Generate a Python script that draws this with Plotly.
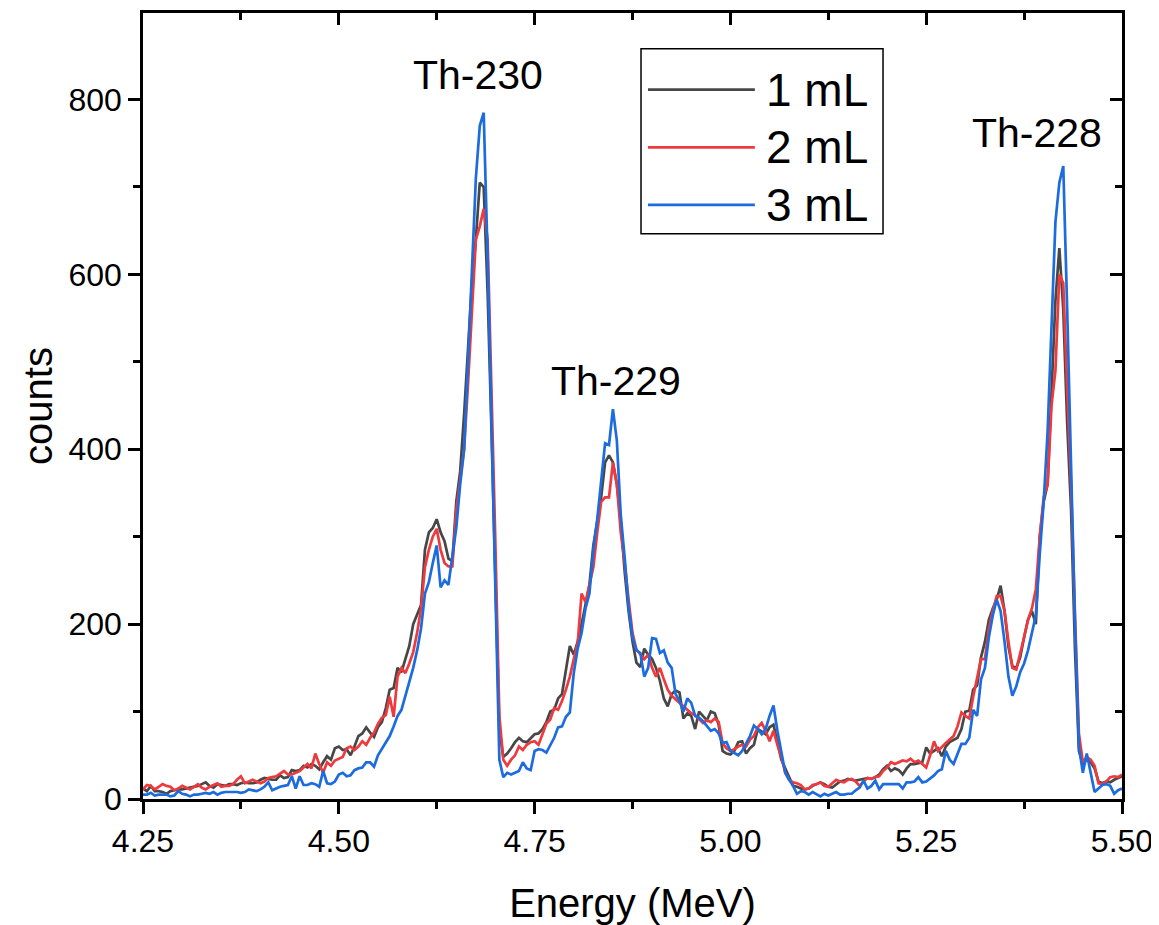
import numpy as np
import plotly.graph_objects as go

# Energy grid (MeV), 5 keV channels from 4.25 to 5.50
energy = np.round(np.arange(4.25, 5.5001, 0.005), 3)

counts_1mL = [
    12, 9, 15, 9, 9, 8, 6, 9, 10, 11,
    11, 12, 13, 14, 15, 17, 19, 15, 13, 17,
    16, 15, 17, 17, 16, 18, 19, 18, 18, 19,
    22, 24, 23, 22, 22, 27, 24, 25, 33, 32,
    33, 38, 36, 40, 38, 34, 42, 49, 45, 58,
    60, 56, 57, 50, 60, 72, 75, 82, 76, 71,
    82, 88, 104, 125, 127, 150, 145, 160, 175, 200,
    210, 222, 285, 305, 310, 320, 305, 295, 275, 272,
    340, 375, 440, 510, 590, 640, 705, 700, 580, 420,
    250, 80, 48, 52, 58, 65, 70, 66, 65, 70,
    74, 75, 80, 88, 100, 102, 115, 120, 150, 175,
    165, 180, 200, 222, 245, 290, 320, 345, 385, 393,
    385, 360, 318, 260, 215, 180, 156, 151, 172, 165,
    160, 150, 135, 115, 106, 120, 124, 122, 92, 98,
    95, 80, 100, 95, 90, 100, 98, 85, 55, 52,
    51, 55, 65, 66, 52, 58, 62, 80, 77, 74,
    82, 85, 65, 45, 35, 25, 15, 14, 12, 11,
    12, 15, 17, 19, 17, 14, 13, 16, 20, 21,
    23, 22, 21, 22, 23, 24, 23, 25, 28, 34,
    38, 32, 35, 33, 28, 35, 40, 40, 41, 42,
    59, 52, 55, 58, 49, 60, 65, 68, 70, 80,
    100, 101, 125, 130, 162, 180, 205, 218, 228, 244,
    215, 174, 152, 150, 162, 185, 205, 215, 200, 300,
    340, 360, 470, 570, 630, 560, 430, 330, 170, 55,
    40, 45, 42, 35, 20, 18, 20, 19, 22, 24,
    26,
]

counts_2mL = [
    11, 16, 15, 11, 14, 17, 15, 14, 10, 12,
    15, 13, 11, 14, 17, 13, 11, 14, 16, 18,
    14, 15, 15, 17, 22, 26, 18, 20, 22, 20,
    18, 20, 24, 25, 26, 29, 32, 28, 28, 30,
    32, 36, 40, 35, 52, 40, 30, 42, 38, 44,
    46, 48, 58, 60, 56, 60, 66, 62, 70, 76,
    86, 93, 96, 117, 94, 140, 150, 144, 155, 168,
    190, 218, 265, 285, 300, 309, 285, 270, 266, 266,
    330, 368, 400, 475, 560, 640, 655, 675, 640, 470,
    290, 95, 45, 38, 45, 50, 60, 56, 62, 65,
    66, 62, 75, 86, 91, 104, 102, 112, 125, 140,
    160, 178, 235, 225, 245, 265, 305, 340, 345, 345,
    385, 360, 305, 270, 228, 190, 171, 165, 160, 165,
    150, 140, 150, 137, 125, 118, 114, 110, 106, 102,
    98, 96, 92, 87, 90, 88, 92, 88, 64, 58,
    55, 57, 60, 62, 60, 68, 72, 82, 87, 78,
    66, 78, 62, 48, 30, 22, 19, 18, 16, 11,
    12, 16, 17, 19, 15, 14, 18, 22, 20, 19,
    22, 23, 20, 15, 20, 24, 23, 25, 26, 32,
    36, 42, 40, 42, 44, 43, 46, 42, 44, 40,
    36, 50, 66, 55, 60, 64, 68, 72, 83, 99,
    95, 92, 117, 137, 160, 160, 195, 215, 232, 232,
    215, 180, 150, 148, 165, 185, 205, 218, 240, 300,
    345, 360, 450, 490, 600, 590, 470, 360, 210, 75,
    42, 48, 45, 38, 18, 17, 20, 25, 26, 25,
    28,
]

counts_3mL = [
    5, 5, 7, 4, 5, 5, 5, 3, 4, 9,
    6, 5, 3, 5, 5, 6, 7, 6, 8, 5,
    7, 8, 8, 8, 8, 7, 8, 11, 10, 9,
    11, 14, 19, 10, 12, 14, 15, 16, 26, 12,
    26, 16, 16, 18, 17, 14, 32, 18, 17, 20,
    28, 30, 26, 27, 33, 35, 36, 42, 42, 37,
    50, 57, 64, 72, 83, 95, 102, 118, 135, 150,
    170, 195, 235, 248, 270, 290, 242, 250, 245, 279,
    310, 360, 400, 500, 610, 710, 770, 785, 620, 420,
    220, 45, 25, 30, 28, 30, 32, 42, 35, 33,
    55, 57, 56, 53, 62, 70, 82, 83, 94, 99,
    144, 172, 190, 218, 235, 285, 320, 360, 407, 405,
    446, 410, 325, 276, 220, 185, 170, 167, 140, 150,
    184, 183, 167, 170, 156, 150, 120, 112, 100, 115,
    110, 95, 93, 89, 84, 78, 80, 75, 64, 65,
    55, 52, 50, 55, 64, 72, 84, 80, 74, 80,
    95, 107, 78, 55, 30, 22, 15, 6, 9, 8,
    5, 8, 5, 3, 6, 4, 6, 8, 5, 5,
    6, 6, 10, 13, 21, 12, 15, 21, 11, 17,
    17, 17, 17, 17, 12, 19, 19, 20, 25, 19,
    20, 23, 27, 32, 34, 55, 45, 40, 51, 63,
    63, 70, 102, 95, 137, 150, 185, 210, 228, 215,
    180, 140, 118, 129, 145, 155, 170, 190, 210, 280,
    340, 420, 530, 660, 705, 724, 560, 380, 200, 60,
    30, 52, 30, 8, 12, 16, 17, 15, 6, 10,
    12,
]

series_names = ["1 mL", "2 mL", "3 mL"]
series_colors = ["#474747", "#ee3a3d", "#1c6ce0"]
peak_labels = ["Th-230", "Th-229", "Th-228"]
peak_label_pos = [(4.678, 828), (4.854, 478), (5.391, 762)]
x_tick_vals = [4.25, 4.5, 4.75, 5.0, 5.25, 5.5]
x_tick_text = ["4.25", "4.50", "4.75", "5.00", "5.25", "5.50"]
x_minor_vals = [4.375, 4.625, 4.875, 5.125, 5.375]
y_tick_vals = [0, 200, 400, 600, 800]
y_minor_vals = [100, 300, 500, 700]

FONT = "Arial, Liberation Sans, sans-serif"

fig = go.Figure()
for name, col, ys in zip(series_names, series_colors, [counts_1mL, counts_2mL, counts_3mL]):
    fig.add_trace(go.Scatter(x=energy, y=ys, mode="lines", name=name,
                             line=dict(color=col, width=2.7), showlegend=False))

# dummy trace for mirrored tick axes (top/right, ticks inside)
fig.add_trace(go.Scatter(x=[None], y=[None], xaxis="x2", yaxis="y2",
                         showlegend=False, hoverinfo="skip"))

XR = [4.25, 5.50]
YR = [0, 899]
TK = dict(tickcolor="black", tickwidth=2.5)

fig.update_layout(
    width=1151, height=917,
    margin=dict(l=135, r=37, t=2, b=125),
    paper_bgcolor="white", plot_bgcolor="white",
    font=dict(family=FONT, color="black", size=32),
    xaxis=dict(range=XR, tickvals=x_tick_vals, ticktext=x_tick_text,
               ticks="outside", ticklen=12, **TK,
               minor=dict(tickvals=x_minor_vals, ticks="outside", ticklen=7, **TK),
               showline=True, linewidth=2.5, linecolor="black", mirror=True,
               showgrid=False, zeroline=False, ticklabeloverflow="allow",
               tickfont=dict(size=32, family=FONT),
               title=dict(text="Energy (MeV)", font=dict(size=40, family=FONT), standoff=36)),
    yaxis=dict(range=YR, tickvals=y_tick_vals,
               ticks="outside", ticklen=12, **TK,
               minor=dict(tickvals=y_minor_vals, ticks="outside", ticklen=7, **TK),
               showline=True, linewidth=2.5, linecolor="black", mirror=True,
               showgrid=False, zeroline=False, ticklabeloverflow="allow",
               tickfont=dict(size=32, family=FONT),
               title=dict(text="counts", font=dict(size=40, family=FONT), standoff=4)),
    xaxis2=dict(range=XR, overlaying="x", side="top", anchor="y2",
                tickvals=x_tick_vals, ticks="inside", ticklen=12, **TK,
                minor=dict(tickvals=x_minor_vals, ticks="inside", ticklen=7, **TK),
                showticklabels=False, showline=False, showgrid=False, zeroline=False),
    yaxis2=dict(range=YR, overlaying="y", side="right", anchor="x2",
                tickvals=y_tick_vals, ticks="inside", ticklen=12, **TK,
                minor=dict(tickvals=y_minor_vals, ticks="inside", ticklen=7, **TK),
                showticklabels=False, showline=False, showgrid=False, zeroline=False),
)

# peak labels
for txt, (ex, cy) in zip(peak_labels, peak_label_pos):
    fig.add_annotation(x=ex, y=cy, xref="x", yref="y", text=txt, showarrow=False,
                       font=dict(size=41, family=FONT, color="black"))

# manual legend (long line samples as in the original)
lx0, lx1, ly0, ly1 = 0.5087, 0.7559, 0.719, 0.9544
fig.add_shape(type="rect", xref="paper", yref="paper", x0=lx0, x1=lx1, y0=ly0, y1=ly1,
              line=dict(color="black", width=1.5), fillcolor="white", layer="above")
entry_y = [0.9025, 0.829, 0.756]
for name, col, ey in zip(series_names, series_colors, entry_y):
    fig.add_shape(type="line", xref="paper", yref="paper", x0=0.5158, x1=0.625, y0=ey, y1=ey,
                  line=dict(color=col, width=2.7), layer="above")
    fig.add_annotation(x=0.634, y=ey, xref="paper", yref="paper", text=name, showarrow=False,
                       xanchor="left", yanchor="middle",
                       font=dict(size=46, family=FONT, color="black"))

fig.write_html("out.html", config={"displayModeBar": False})
